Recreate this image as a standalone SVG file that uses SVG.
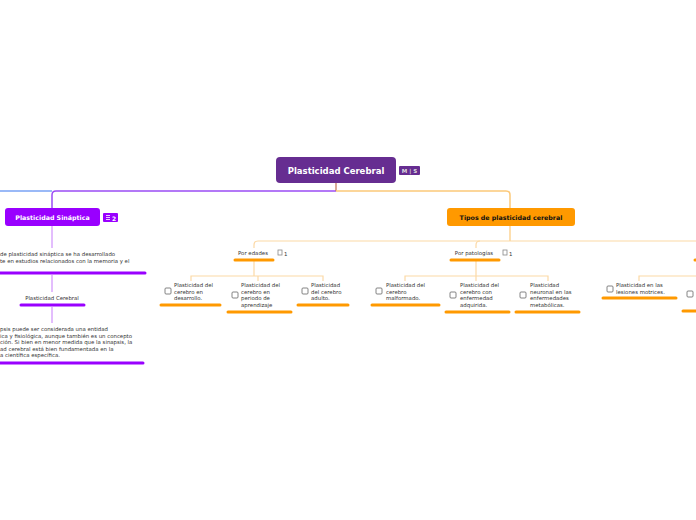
<svg xmlns="http://www.w3.org/2000/svg" width="696" height="520" viewBox="0 0 696 520">
<style>
.t{font-family:"DejaVu Sans",Verdana,sans-serif;font-size:5.4px;fill:#333}
.tb{font-family:"DejaVu Sans",Verdana,sans-serif;font-weight:bold}
.ol{fill:none;stroke:#fcd9a6;stroke-width:1.2}
.pl{fill:none;stroke:#c77dfb;stroke-width:1}
.ou{stroke:#ff9900;stroke-width:3;stroke-linecap:round}
.pu{stroke:#9900ff;stroke-width:3;stroke-linecap:round}
.cb{fill:#fff;stroke:#666;stroke-width:0.8}
.ic{fill:none;stroke:#888;stroke-width:0.8}
</style>
<rect width="696" height="520" fill="#fff"/>
<g id="connectors">
<line x1="0" y1="191" x2="52" y2="191" stroke="#78a2f5" stroke-width="1.5"/>
<path d="M336 191 H56 Q52 191 52 195 V208" fill="none" stroke="#9b4cf5" stroke-width="1.5"/>
<line x1="336" y1="183" x2="336" y2="191" stroke="#c0704f" stroke-width="1.2"/>
<path d="M336 191 H506 Q510 191 510 195 V208" fill="none" stroke="#fcc97a" stroke-width="1.5"/>
<line class="pl" x1="52" y1="226" x2="52" y2="248"/>
<line class="pl" x1="52" y1="275" x2="52" y2="292"/>
<line class="pl" x1="52" y1="307" x2="52" y2="323"/>
<line x1="510" y1="226" x2="510" y2="241" stroke="#fcc97a" stroke-width="1.2"/>
<path class="ol" d="M696 241 H258 Q254 241 254 245 V248"/>
<path class="ol" d="M480 241 Q476 241 476 245 V248"/>
<line class="ol" x1="254" y1="261" x2="254" y2="276"/>
<path class="ol" d="M191 281 V276 H323 V281"/>
<line class="ol" x1="258" y1="276" x2="258" y2="281"/>
<line class="ol" x1="476" y1="261" x2="476" y2="276"/>
<path class="ol" d="M405 281 V276 H548 V281"/>
<line class="ol" x1="476" y1="276" x2="476" y2="281"/>
<path class="ol" d="M639 281 V276 H696"/>
</g>
<g id="root">
<rect x="276" y="157" width="120" height="26" rx="4" fill="#662d91"/>
<text class="tb" x="336" y="174" font-size="8.5" fill="#fff" text-anchor="middle">Plasticidad Cerebral</text>
<rect x="399" y="166" width="21" height="9" rx="1" fill="#662d91"/>
<text class="tb" x="409.5" y="173" font-size="5.5" fill="#ddd" text-anchor="middle">M | S</text>
</g>
<g id="sinaptica">
<rect x="5" y="208" width="95" height="18" rx="3" fill="#9900ff"/>
<text class="tb" x="52.5" y="220" font-size="6.3" fill="#fff" text-anchor="middle">Plasticidad Sináptica</text>
<rect x="103" y="213" width="15" height="9" rx="1" fill="#9900ff"/>
<path d="M106 215.5h4M106 217.5h4M106 219.5h4" stroke="#fff" stroke-width="0.8"/>
<text class="tb" x="112" y="220.5" font-size="6" fill="#fff">2</text>
</g>
<g id="sinaptica-text1">
<text class="t"><tspan x="0" y="256">de plasticidad sináptica se ha desarrollado</tspan><tspan x="0" y="262.5">te en estudios relacionados con la memoria y el</tspan></text>
<line class="pu" x1="0" y1="273" x2="145" y2="273"/>
</g>
<g id="sinaptica-cerebral">
<text class="t" x="52" y="300" text-anchor="middle">Plasticidad Cerebral</text>
<line class="pu" x1="21" y1="305" x2="84" y2="305"/>
</g>
<g id="sinaptica-text2">
<text class="t"><tspan x="0" y="331">psis puede ser considerada una entidad</tspan><tspan x="0" y="337.5">ica y fisiológica, aunque también es un concepto</tspan><tspan x="0" y="344">ción. Si bien en menor medida que la sinapsis, la</tspan><tspan x="0" y="350.5">ad cerebral está bien fundamentada en la</tspan><tspan x="0" y="357">a científica específica.</tspan></text>
<line class="pu" x1="0" y1="363" x2="143" y2="363"/>
</g>
<g id="tipos">
<rect x="447" y="208" width="128" height="18" rx="3" fill="#ff9900"/>
<text class="tb" x="511" y="220" font-size="6.3" fill="#111" text-anchor="middle">Tipos de plasticidad cerebral</text>
</g>
<g id="por-edades">
<text class="t" x="253" y="255" text-anchor="middle">Por edades</text>
<line class="ou" x1="235" y1="260" x2="273" y2="260"/>
<rect class="ic" x="278" y="250" width="4" height="5"/>
<text class="t" x="284" y="256">1</text>
</g>
<g id="edad-1">
<rect class="cb" x="165" y="288" width="6" height="6" rx="1"/>
<text class="t"><tspan x="174" y="287">Plasticidad del</tspan><tspan x="174" y="293.5">cerebro en</tspan><tspan x="174" y="300">desarrollo.</tspan></text>
<line class="ou" x1="161" y1="305" x2="220" y2="305"/>
</g>
<g id="edad-2">
<rect class="cb" x="232" y="292" width="6" height="6" rx="1"/>
<text class="t"><tspan x="241" y="287">Plasticidad del</tspan><tspan x="241" y="293.5">cerebro en</tspan><tspan x="241" y="300">periodo de</tspan><tspan x="241" y="306.5">aprendizaje</tspan></text>
<line class="ou" x1="228" y1="312" x2="291" y2="312"/>
</g>
<g id="edad-3">
<rect class="cb" x="302" y="288" width="6" height="6" rx="1"/>
<text class="t"><tspan x="311" y="287">Plasticidad</tspan><tspan x="311" y="293.5">del cerebro</tspan><tspan x="311" y="300">adulto.</tspan></text>
<line class="ou" x1="298" y1="305" x2="348" y2="305"/>
</g>
<g id="por-patologias">
<text class="t" x="474" y="255" text-anchor="middle">Por patologías</text>
<line class="ou" x1="451" y1="260" x2="499" y2="260"/>
<rect class="ic" x="503" y="250" width="4" height="5"/>
<text class="t" x="509" y="256">1</text>
</g>
<g id="pat-1">
<rect class="cb" x="376" y="288" width="6" height="6" rx="1"/>
<text class="t"><tspan x="386" y="287">Plasticidad del</tspan><tspan x="386" y="293.5">cerebro</tspan><tspan x="386" y="300">malformado.</tspan></text>
<line class="ou" x1="372" y1="305" x2="439" y2="305"/>
</g>
<g id="pat-2">
<rect class="cb" x="450" y="292" width="6" height="6" rx="1"/>
<text class="t"><tspan x="460" y="287">Plasticidad del</tspan><tspan x="460" y="293.5">cerebro con</tspan><tspan x="460" y="300">enfermedad</tspan><tspan x="460" y="306.5">adquirida.</tspan></text>
<line class="ou" x1="446" y1="312" x2="509" y2="312"/>
</g>
<g id="pat-3">
<rect class="cb" x="520" y="292" width="6" height="6" rx="1"/>
<text class="t"><tspan x="530" y="287">Plasticidad</tspan><tspan x="530" y="293.5">neuronal en las</tspan><tspan x="530" y="300">enfermedades</tspan><tspan x="530" y="306.5">metabólicas.</tspan></text>
<line class="ou" x1="516" y1="312" x2="579" y2="312"/>
</g>
<g id="tercera">
<line class="ou" x1="695" y1="260" x2="697" y2="260"/>
</g>
<g id="lesiones">
<rect class="cb" x="607" y="286" width="6" height="6" rx="1"/>
<text class="t"><tspan x="616" y="287">Plasticidad en las</tspan><tspan x="616" y="293.5">lesiones motrices.</tspan></text>
<line class="ou" x1="603" y1="298" x2="676" y2="298"/>
</g>
<g id="otro">
<rect class="cb" x="687" y="291" width="6" height="6" rx="1"/>
<line class="ou" x1="683" y1="311" x2="697" y2="311"/>
</g>
</svg>
